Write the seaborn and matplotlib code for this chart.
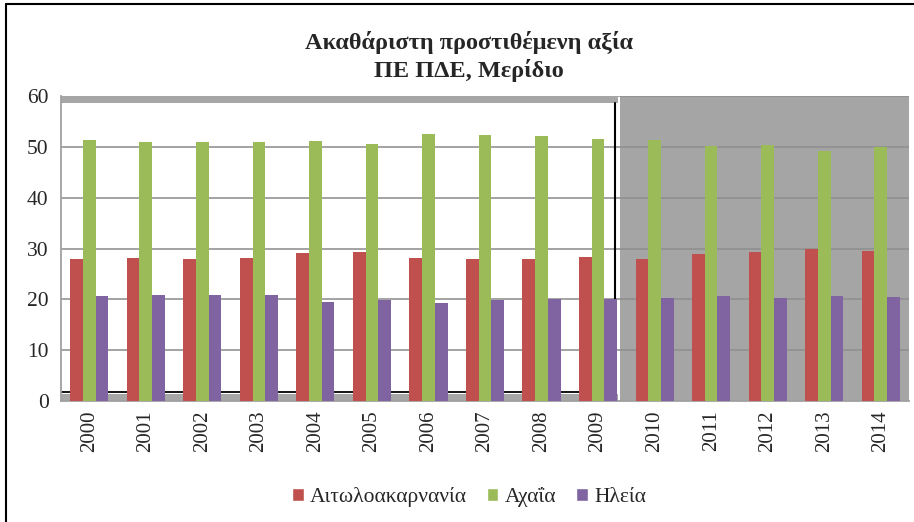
import pandas as pd
import matplotlib.pyplot as plt
import seaborn as sns
from matplotlib.patches import Rectangle
from matplotlib.lines import Line2D

# --- data ---
years = [str(y) for y in range(2000, 2015)]
aitoloakarnania = [27.9, 28.1, 28.0, 28.2, 29.2, 29.4, 28.2, 27.9, 28.0, 28.4,
                   27.9, 29.0, 29.3, 30.0, 29.5]
achaia = [51.3, 50.9, 50.9, 50.9, 51.2, 50.6, 52.5, 52.3, 52.1, 51.5,
          51.4, 50.2, 50.4, 49.1, 49.9]
ileia = [20.7, 20.9, 20.9, 20.8, 19.5, 19.9, 19.3, 19.8, 20.1, 20.1,
         20.3, 20.6, 20.2, 20.6, 20.4]
series_names = ["Αιτωλοακαρνανία", "Αχαΐα", "Ηλεία"]
colors = ["#C0504D", "#9BBB59", "#8064A2"]
y_ticks = [0, 10, 20, 30, 40, 50, 60]

df = pd.DataFrame({
    "Έτος": years * 3,
    "Περιοχή": [series_names[0]] * 15 + [series_names[1]] * 15 + [series_names[2]] * 15,
    "Μερίδιο": aitoloakarnania + achaia + ileia,
})

sns.set_style("white")
plt.rcParams['font.family'] = ['Liberation Serif', 'DejaVu Serif']

fig = plt.figure(figsize=(9.14, 5.22), dpi=100)
ax = fig.add_axes([61 / 914, 1 - 401 / 522, 848 / 914, 305 / 522])

sns.barplot(data=df, x="Έτος", y="Μερίδιο", hue="Περιοχή", palette=colors,
            width=0.675, saturation=1, linewidth=0, ax=ax, zorder=3, legend=False)

ax.set_xlim(-0.5, 14.5)
ax.set_ylim(0, 60)
ax.set_yticks(y_ticks)
ax.yaxis.grid(True, color="#9C9C9C", linewidth=1.3, zorder=0)
ax.set_axisbelow(True)

# shaded area 2010-2014 (gridlines show a bit darker on it)
ax.add_patch(Rectangle((9.38, 0), 5.12, 60, facecolor="#A5A5A5", edgecolor="none", zorder=1))
ax.hlines(y_ticks[1:], 9.38, 14.5, color="#929292", linewidth=1.3, zorder=1.5)

# framed 2000-2009 box
ax.add_patch(Rectangle((-0.5, 58.6), 9.85, 1.4, facecolor="#A6A6A6", edgecolor="none", zorder=2))
ax.add_patch(Rectangle((-0.5, 0), 9.85, 1.3, facecolor="#A6A6A6", edgecolor="none", zorder=2))
ax.plot([-0.5, 9.3], [1.7, 1.7], color="black", linewidth=1.3, zorder=2)
ax.plot([9.3, 9.3], [1.7, 58.6], color="black", linewidth=1.5, zorder=2)

for side in ["top", "right"]:
    ax.spines[side].set_visible(False)
ax.spines["left"].set_color("#A0A0A0")
ax.spines["bottom"].set_color("#A0A0A0")
ax.spines["left"].set_linewidth(1.3)
ax.spines["bottom"].set_linewidth(1.3)

ax.set_xticks([i - 0.5 for i in range(16)], minor=True)
ax.tick_params(axis="x", which="minor", length=6, color="#A0A0A0", width=1.3, direction="out")
ax.tick_params(axis="x", which="major", length=0, labelsize=15, labelrotation=90, pad=7)
ax.tick_params(axis="y", length=6, color="#A0A0A0", width=1.3, direction="out",
               labelsize=15.5, pad=3)
ax.set_xlabel("")
ax.set_ylabel("")

fig.text(0.513, 1 - 42 / 522, "Ακαθάριστη προστιθέμενη αξία", ha="center", va="center",
         fontsize=17.5, fontweight="bold")
fig.text(0.513, 1 - 70 / 522, "ΠΕ ΠΔΕ, Μερίδιο", ha="center", va="center",
         fontsize=17.5, fontweight="bold")

handles = [Rectangle((0, 0), 1, 1, facecolor=c) for c in colors]
fig.legend(handles, series_names, loc="center", bbox_to_anchor=(0.513, 1 - 497 / 522),
           ncol=3, frameon=False, fontsize=15.5, handlelength=0.55, handleheight=0.55,
           handletextpad=0.3, columnspacing=0.9)

# outer chart frame
fig.add_artist(Line2D([6 / 914, 6 / 914], [0, 1 - 4 / 522], color="black", linewidth=1.5))
fig.add_artist(Line2D([6 / 914, 1], [1 - 4 / 522, 1 - 4 / 522], color="black", linewidth=1.5))

plt.savefig("out.png", dpi=100)
plt.close()
